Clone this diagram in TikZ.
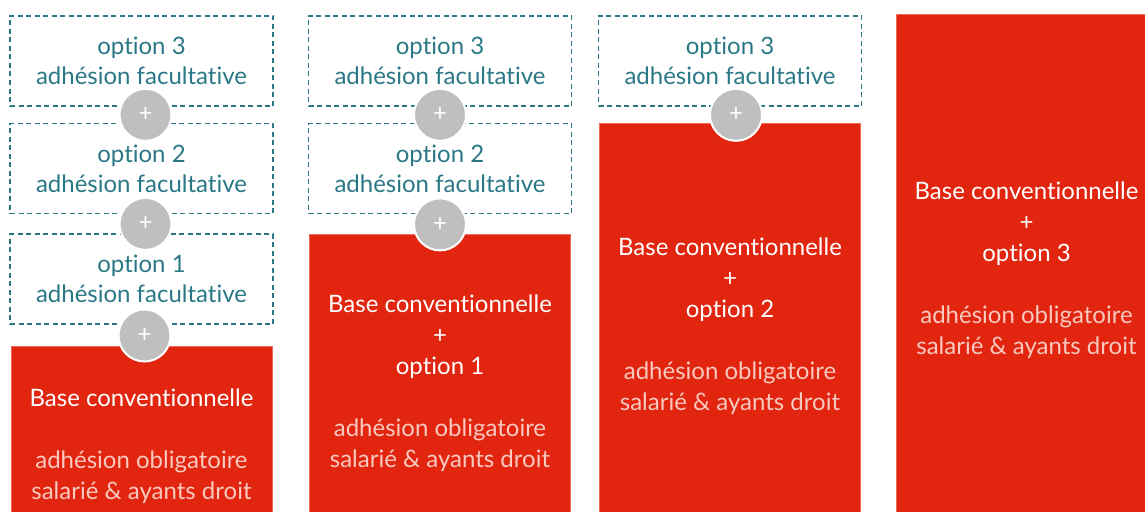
\documentclass[tikz,border=0pt]{standalone}
\usepackage{fontspec}
\setmainfont{Lato}[Ligatures=NoCommon]
\usepackage{xcolor}
\usetikzlibrary{positioning,calc}

\definecolor{optteal}{HTML}{2A7886}
\definecolor{basered}{HTML}{E1250F}
\definecolor{baseline}{HTML}{F26A57}
\definecolor{basepale}{HTML}{F9C9BF}
\definecolor{plusgray}{HTML}{BFBFBF}

\begin{document}
\begin{tikzpicture}[
    x=1pt, y=-1pt,
    optbox/.style={rectangle, draw=optteal, dash pattern=on 5pt off 3.5pt, line width=1.6pt, minimum width=263pt, minimum height=90pt, text=optteal, align=center, inner sep=0pt, font=\fontsize{24}{30}\selectfont},
    basebox/.style={rectangle, draw=baseline, fill=basered, line width=0.8pt, minimum width=261pt, text=white, align=center, inner sep=0pt, font=\fontsize{24}{31}\selectfont},
    plusdot/.style={circle, fill=plusgray, draw=white, line width=2pt, minimum size=52pt, inner sep=0pt, text=white, font=\fontsize{24}{24}\selectfont}
]
    \useasboundingbox (0,0) rectangle (1145,511);
    \clip (0,0) rectangle (1145,511);

    % Column 1: base + three options
    \node[optbox] (c1opt3) at (141.5,61) {option 3\\adhésion facultative};
    \node[optbox, below=16pt of c1opt3] (c1opt2) {option 2\\adhésion facultative};
    \node[optbox, below=19pt of c1opt2] (c1opt1) {option 1\\adhésion facultative};
    \node[basebox, below=21pt of c1opt1, minimum height=199pt] (c1base) {Base conventionnelle\\[31pt]\textcolor{basepale}{adhésion obligatoire}\\\textcolor{basepale}{salarié \& ayants droit}};

    \node[plusdot, xshift=4pt] (c1plus3) at ($(c1opt3.south)!0.5!(c1opt2.north)$) {+};
    \node[plusdot, xshift=4pt] (c1plus2) at ($(c1opt2.south)!0.5!(c1opt1.north)$) {+};
    \node[plusdot, xshift=3pt] (c1plus1) at ($(c1opt1.south)!0.5!(c1base.north)$) {+};

    % Column 2: base + option 1
    \node[optbox] (c2opt3) at (440,61) {option 3\\adhésion facultative};
    \node[optbox, below=16pt of c2opt3] (c2opt2) {option 2\\adhésion facultative};
    \node[basebox, below=20pt of c2opt2, minimum height=296pt] (c2base) {Base conventionnelle\\+\\option 1\\[31pt]\textcolor{basepale}{adhésion obligatoire}\\\textcolor{basepale}{salarié \& ayants droit}};

    \node[plusdot] (c2plus3) at ($(c2opt3.south)!0.5!(c2opt2.north)$) {+};
    \node[plusdot] (c2plus2) at ($(c2opt2.south)!0.5!(c2base.north)$) {+};

    % Column 3: base + option 2
    \node[optbox] (c3opt3) at (730,61) {option 3\\adhésion facultative};
    \node[basebox, below=16pt of c3opt3, minimum height=407pt] (c3base) {Base conventionnelle\\+\\option 2\\[31pt]\textcolor{basepale}{adhésion obligatoire}\\\textcolor{basepale}{salarié \& ayants droit}};

    \node[plusdot, xshift=6pt] (c3plus3) at ($(c3opt3.south)!0.5!(c3base.north)$) {+};

    % Column 4: base + option 3
    \node[basebox, anchor=north, minimum height=512pt] (c4base) at (1026.5,14) {Base conventionnelle\\+\\option 3\\[31pt]\textcolor{basepale}{adhésion obligatoire}\\\textcolor{basepale}{salarié \& ayants droit}};
\end{tikzpicture}
\end{document}
